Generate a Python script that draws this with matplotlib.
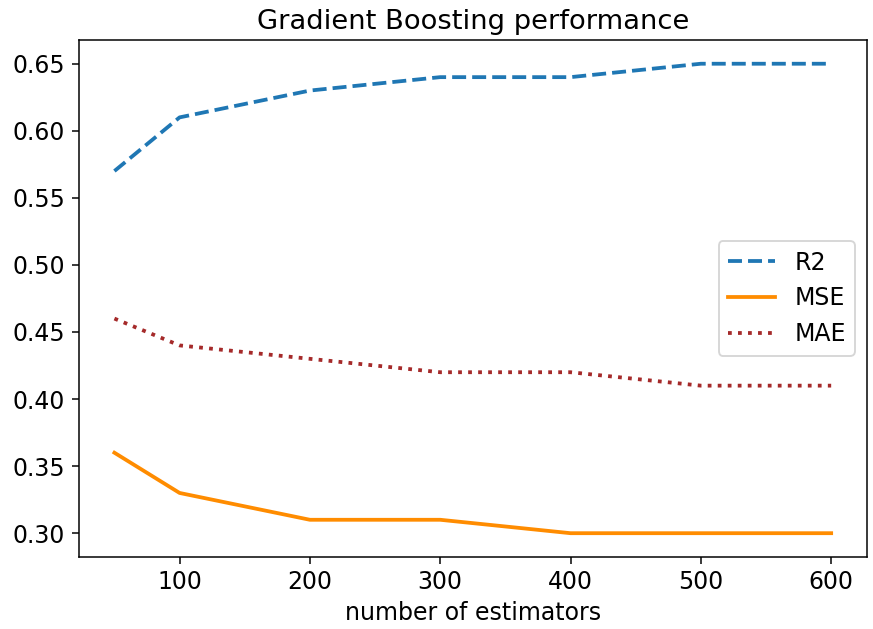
import matplotlib
matplotlib.use("Agg")
import matplotlib.pyplot as plt

n_estimators = [50, 100, 200, 300, 400, 500, 600]
r2 = [0.57, 0.61, 0.63, 0.64, 0.64, 0.65, 0.65]
mse = [0.36, 0.33, 0.31, 0.31, 0.30, 0.30, 0.30]
mae = [0.46, 0.44, 0.43, 0.42, 0.42, 0.41, 0.41]

fig, ax = plt.subplots(figsize=(6.42, 4.625), dpi=136)
ax.plot(n_estimators, r2, "--", color="tab:blue", lw=2, label="R2")
ax.plot(n_estimators, mse, "-", color="darkorange", lw=2, label="MSE")
ax.plot(n_estimators, mae, ":", color="brown", lw=2, label="MAE")
ax.set_title("Gradient Boosting performance", fontsize=14.5)
ax.set_xlabel("number of estimators", fontsize=12.5)
ax.tick_params(labelsize=12.5)
ax.legend(loc="center right", fontsize=12.5)
fig.subplots_adjust(left=0.09, right=0.993, top=0.936, bottom=0.115)
fig.savefig("out.png", dpi=136)
